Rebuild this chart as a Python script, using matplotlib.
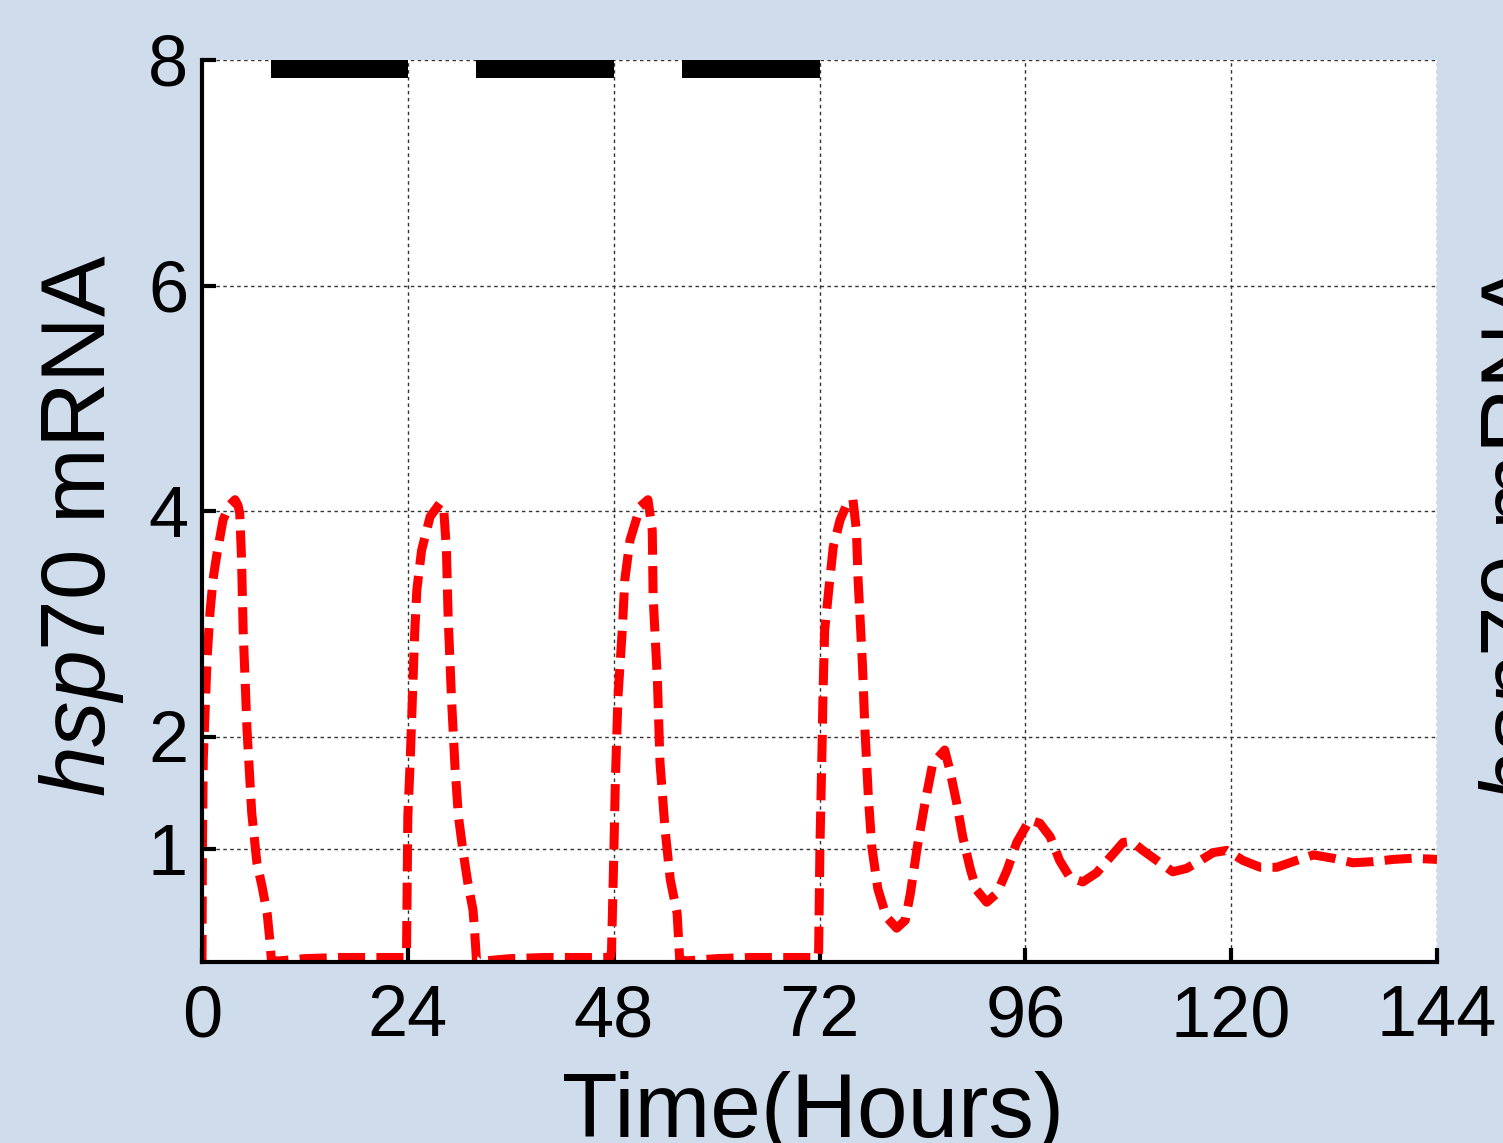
import matplotlib
matplotlib.use("Agg")
import matplotlib.pyplot as plt

plt.rcParams['font.family'] = ['Liberation Sans', 'DejaVu Sans']
plt.rcParams['mathtext.fontset'] = 'custom'
plt.rcParams['mathtext.it'] = 'Liberation Sans:italic'
plt.rcParams['mathtext.rm'] = 'Liberation Sans'

# ---------------- data ----------------
time_h = [
    0.0, 0.05, 0.15, 0.35, 0.6, 0.93, 1.3, 1.7, 2.45, 3.2, 3.85, 4.2, 4.4, 4.6, 4.8,
    5.25, 5.8, 6.4, 7.0, 7.6, 7.9, 8.1,
    9.0, 12.0, 16.0, 20.0, 23.7,
    23.85, 24.0, 24.25, 24.6, 24.8, 25.05, 25.6, 26.6, 27.75, 28.2, 28.5, 28.7,
    29.1, 29.5, 29.9, 30.4, 31.0, 31.6, 31.8, 32.0,
    33.0, 36.0, 40.0, 44.0, 47.6,
    47.75, 48.0, 48.2, 48.5, 49.0, 49.3, 49.9, 51.1, 52.0, 52.5, 52.6, 53.1, 53.4,
    54.0, 54.6, 55.4, 55.7,
    56.5, 60.0, 64.0, 68.0, 71.8,
    71.9, 72.05, 72.3, 72.4, 72.6, 73.2, 73.6, 74.4, 75.3, 75.9, 76.3, 76.5, 77.0,
    77.3, 77.7, 78.1, 78.8, 79.8, 81.0, 82.0, 82.6, 83.4, 84.3, 85.2, 86.6, 87.2,
    88.0, 88.7, 89.6, 90.3, 91.5, 92.7, 93.9, 95.0, 96.5, 97.7, 98.9, 100.0, 101.2,
    102.7, 104.3, 105.9, 107.4, 108.4, 109.7, 111.7, 113.2, 114.8, 116.4, 117.9,
    119.5, 121.4, 123.4, 125.3, 127.2, 129.6, 131.9, 134.2, 136.5, 138.9, 141.2, 144.0,
]
hsp70_mrna = [
    0.0, 1.0, 1.8, 2.2, 2.7, 3.1, 3.4, 3.6, 3.92, 4.05, 4.1, 4.05, 3.98, 3.6, 2.94,
    2.06, 1.32, 0.88, 0.67, 0.43, 0.2, 0.01,
    0.01, 0.03, 0.04, 0.04, 0.04,
    0.1, 1.29, 1.73, 2.47, 2.92, 3.3, 3.65, 3.95, 4.07, 4.0, 3.65, 3.06,
    2.32, 1.73, 1.29, 1.0, 0.7, 0.46, 0.26, 0.02,
    0.01, 0.03, 0.04, 0.04, 0.04,
    0.1, 0.9, 1.61, 2.35, 2.94, 3.39, 3.74, 4.04, 4.1, 3.83, 3.24, 2.5, 1.77,
    1.17, 0.73, 0.43, 0.02,
    0.01, 0.03, 0.04, 0.04, 0.04,
    0.1, 1.02, 1.91, 2.35, 2.94, 3.39, 3.68, 3.92, 4.08, 4.1, 3.83, 3.39, 2.65,
    2.06, 1.46, 1.02, 0.65, 0.4, 0.3, 0.37, 0.61, 1.02, 1.41, 1.76, 1.88, 1.7,
    1.41, 1.11, 0.82, 0.64, 0.53, 0.61, 0.82, 1.06, 1.26, 1.23, 1.11, 0.9, 0.75,
    0.71, 0.79, 0.93, 1.06, 1.07, 0.99, 0.88, 0.8, 0.83, 0.9, 0.97,
    0.99, 0.9, 0.84, 0.84, 0.89, 0.95, 0.92, 0.88, 0.89, 0.91, 0.92, 0.91,
]
bar_starts = [8, 32, 56]
bar_ends = [24, 48, 72]
x_ticks = [0, 24, 48, 72, 96, 120, 144]
y_ticks = [1, 2, 4, 6, 8]
x_label = "Time(Hours)"
y_label = r"$\mathit{hsp70}$ mRNA"

# ---------------- figure ----------------
W, H = 1503, 1143
bg = '#cfdcec'
fig = plt.figure(figsize=(W / 100, H / 100), dpi=100, facecolor=bg)
ax = fig.add_axes([202 / W, 1 - 962 / H, 1235 / W, 902 / H])
ax.set_facecolor('white')

ax.set_xlim(0, 144)
ax.set_ylim(0, 8)
ax.set_xticks(x_ticks)
ax.set_yticks(y_ticks)
ax.set_xticklabels([str(v) for v in x_ticks])
ax.set_yticklabels([str(v) for v in y_ticks])

ax.set_axisbelow(True)
ax.grid(True, color='#333333', linestyle=(0, (2.5, 2.5)), linewidth=1.0)

for s in ['top', 'right']:
    ax.spines[s].set_visible(False)
for s in ['left', 'bottom']:
    ax.spines[s].set_linewidth(3.0)
    ax.spines[s].set_color('black')

ax.tick_params(axis='both', direction='in', length=10, width=3, color='black',
               labelsize=52)
ax.tick_params(axis='x', pad=16)
ax.tick_params(axis='y', pad=10)

# black period bars along the top
widths = [e - s for s, e in zip(bar_starts, bar_ends)]
ax.bar(bar_starts, [0.16] * len(bar_starts), width=widths, bottom=7.84,
       align='edge', color='black', zorder=3)

line, = ax.plot(time_h, hsp70_mrna, color='#ff0000', linewidth=6.5,
                linestyle='--', zorder=2.2)
line.set_dashes((3.0, 1.25))

# labels
fig.text(813 / W, 1 - 1137 / H, x_label, fontsize=65.5, ha='center',
         va='baseline')
fig.text(105 / W, 1 - 526 / H, y_label, fontsize=65.5, rotation=90,
         rotation_mode='anchor', ha='center', va='baseline')
# neighbouring panel's label, cut at the right edge
fig.text(1545 / W, 1 - 532 / H, y_label, fontsize=65.5, rotation=90,
         rotation_mode='anchor', ha='center', va='baseline')

fig.savefig('out.png', dpi=100, facecolor=bg)
